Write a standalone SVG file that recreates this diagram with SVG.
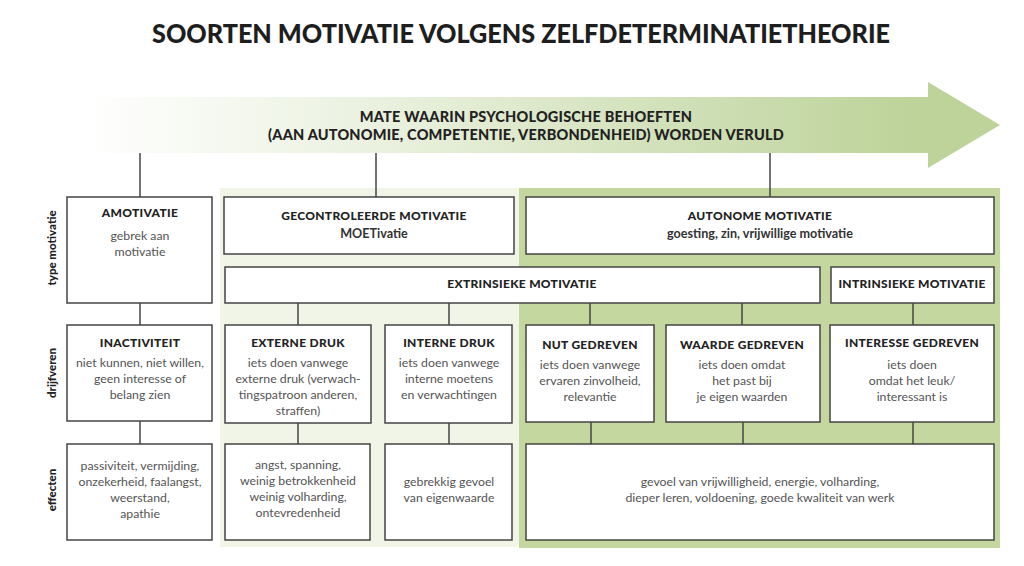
<svg xmlns="http://www.w3.org/2000/svg" width="1024" height="566" viewBox="0 0 1024 566">
<defs>
<linearGradient id="arrowGrad" x1="85" y1="0" x2="1000" y2="0" gradientUnits="userSpaceOnUse">
<stop offset="0" stop-color="#bdd39a" stop-opacity="0"/>
<stop offset="0.35" stop-color="#bdd39a" stop-opacity="0.35"/>
<stop offset="0.9" stop-color="#bdd39a" stop-opacity="1"/>
<stop offset="1" stop-color="#bdd39a" stop-opacity="1"/>
</linearGradient>
<style>
.box{fill:#fff;stroke:#444;stroke-width:1.5}
.ln{stroke:#444;stroke-width:1.5;fill:none}
.t{font-family:Lato,"Noto Sans",sans-serif;font-weight:900;font-size:12px;letter-spacing:0.3px;fill:#222;text-anchor:middle}
.b{font-family:Lato,"Noto Sans",sans-serif;font-weight:400;font-size:12.3px;fill:#555;text-anchor:middle}
.bb{font-family:Lato,"Noto Sans",sans-serif;font-weight:700;font-size:12.6px;fill:#333;text-anchor:middle}
.side{font-family:Lato,"Noto Sans",sans-serif;font-weight:900;font-size:11.5px;fill:#222;text-anchor:middle}
.head{font-family:Lato,"Noto Sans",sans-serif;font-weight:900;font-size:14.5px;letter-spacing:0.2px;fill:#222;text-anchor:middle}
</style>
</defs>
<rect width="1024" height="566" fill="#fff"/>
<text x="521" y="43" font-family="Lato,'Noto Sans',sans-serif" font-weight="900" font-size="27" fill="#1e1e1e" text-anchor="middle" textLength="738" lengthAdjust="spacingAndGlyphs">SOORTEN MOTIVATIE VOLGENS ZELFDETERMINATIETHEORIE</text>

<g id="panels">
<rect x="220" y="188" width="299" height="359" fill="#f0f5e7"/>
<rect x="519" y="188" width="481" height="360" fill="#c3d79f"/>
</g>

<g id="arrow">
<polygon points="85,97 928,97 928,82 1000,125 928,168 928,153 85,153" fill="url(#arrowGrad)"/>
<text class="head" x="526" y="122">MATE WAARIN PSYCHOLOGISCHE BEHOEFTEN</text>
<text class="head" x="526" y="140">(AAN AUTONOMIE, COMPETENTIE, VERBONDENHEID) WORDEN VERULD</text>
</g>

<g id="connectors">
<line class="ln" x1="140" y1="153" x2="140" y2="197"/>
<line class="ln" x1="376" y1="153" x2="376" y2="197"/>
<line class="ln" x1="770" y1="153" x2="770" y2="197"/>
<line class="ln" x1="140" y1="303" x2="140" y2="325"/>
<line class="ln" x1="298" y1="303" x2="298" y2="325"/>
<line class="ln" x1="449" y1="303" x2="449" y2="325"/>
<line class="ln" x1="590" y1="303" x2="590" y2="325"/>
<line class="ln" x1="742" y1="303" x2="742" y2="325"/>
<line class="ln" x1="913" y1="303" x2="913" y2="325"/>
<line class="ln" x1="140" y1="421" x2="140" y2="444"/>
<line class="ln" x1="298" y1="423" x2="298" y2="444"/>
<line class="ln" x1="449" y1="423" x2="449" y2="444"/>
<line class="ln" x1="591" y1="422" x2="591" y2="444"/>
<line class="ln" x1="743" y1="422" x2="743" y2="444"/>
<line class="ln" x1="913" y1="422" x2="913" y2="444"/>
</g>

<g id="side-labels">
<text class="side" transform="translate(56,248) rotate(-90)">type motivatie</text>
<text class="side" transform="translate(56,373) rotate(-90)">drijfveren</text>
<text class="side" transform="translate(56,490) rotate(-90)">effecten</text>
</g>

<g id="amotivatie">
<rect class="box" x="67" y="197" width="145" height="106"/>
<text class="t" x="140" y="217">AMOTIVATIE</text>
<text class="b" x="140" y="240">gebrek aan</text>
<text class="b" x="140" y="256">motivatie</text>
</g>

<g id="gecontroleerde">
<rect class="box" x="224" y="197" width="290" height="57"/>
<text class="t" x="374" y="220">GECONTROLEERDE MOTIVATIE</text>
<text class="bb" x="374" y="238">MOETivatie</text>
</g>

<g id="autonome">
<rect class="box" x="526" y="197" width="468" height="57"/>
<text class="t" x="760" y="220">AUTONOME MOTIVATIE</text>
<text class="bb" x="760" y="238">goesting, zin, vrijwillige motivatie</text>
</g>

<g id="extrinsieke">
<rect class="box" x="225" y="267" width="595" height="36"/>
<text class="t" x="522" y="288">EXTRINSIEKE MOTIVATIE</text>
</g>

<g id="intrinsieke">
<rect class="box" x="831" y="267" width="163" height="36"/>
<text class="t" x="912" y="288">INTRINSIEKE MOTIVATIE</text>
</g>

<g id="inactiviteit">
<rect class="box" x="67" y="325" width="145" height="96"/>
<text class="t" x="140" y="347">INACTIVITEIT</text>
<text class="b" x="140" y="367">niet kunnen, niet willen,</text>
<text class="b" x="140" y="383">geen interesse of</text>
<text class="b" x="140" y="399">belang zien</text>
</g>

<g id="externe-druk">
<rect class="box" x="225" y="325" width="146" height="98"/>
<text class="t" x="298" y="347">EXTERNE DRUK</text>
<text class="b" x="298" y="367">iets doen vanwege</text>
<text class="b" x="298" y="383">externe druk (verwach-</text>
<text class="b" x="298" y="399">tingspatroon anderen,</text>
<text class="b" x="298" y="415">straffen)</text>
</g>

<g id="interne-druk">
<rect class="box" x="385" y="325" width="127" height="98"/>
<text class="t" x="449" y="347">INTERNE DRUK</text>
<text class="b" x="449" y="367">iets doen vanwege</text>
<text class="b" x="449" y="383">interne moetens</text>
<text class="b" x="449" y="399">en verwachtingen</text>
</g>

<g id="nut-gedreven">
<rect class="box" x="526" y="325" width="128" height="97"/>
<text class="t" x="590" y="349">NUT GEDREVEN</text>
<text class="b" x="590" y="369">iets doen vanwege</text>
<text class="b" x="590" y="385">ervaren zinvolheid,</text>
<text class="b" x="590" y="401">relevantie</text>
</g>

<g id="waarde-gedreven">
<rect class="box" x="666" y="325" width="154" height="97"/>
<text class="t" x="742" y="349">WAARDE GEDREVEN</text>
<text class="b" x="742" y="369">iets doen omdat</text>
<text class="b" x="742" y="385">het past bij</text>
<text class="b" x="742" y="401">je eigen waarden</text>
</g>

<g id="interesse-gedreven">
<rect class="box" x="830" y="325" width="164" height="97"/>
<text class="t" x="912" y="347">INTERESSE GEDREVEN</text>
<text class="b" x="912" y="369">iets doen</text>
<text class="b" x="912" y="385">omdat het leuk/</text>
<text class="b" x="912" y="401">interessant is</text>
</g>

<g id="effect-amotivatie">
<rect class="box" x="67" y="444" width="145" height="96"/>
<text class="b" x="140" y="470">passiviteit, vermijding,</text>
<text class="b" x="140" y="486">onzekerheid, faalangst,</text>
<text class="b" x="140" y="502">weerstand,</text>
<text class="b" x="140" y="518">apathie</text>
</g>

<g id="effect-externe">
<rect class="box" x="225" y="444" width="145" height="96"/>
<text class="b" x="298" y="469">angst, spanning,</text>
<text class="b" x="298" y="485">weinig betrokkenheid</text>
<text class="b" x="298" y="501">weinig volharding,</text>
<text class="b" x="298" y="517">ontevredenheid</text>
</g>

<g id="effect-interne">
<rect class="box" x="385" y="444" width="127" height="96"/>
<text class="b" x="449" y="486">gebrekkig gevoel</text>
<text class="b" x="449" y="502">van eigenwaarde</text>
</g>

<g id="effect-autonoom">
<rect class="box" x="526" y="444" width="468" height="96"/>
<text class="b" x="760" y="486">gevoel van vrijwilligheid, energie, volharding,</text>
<text class="b" x="760" y="502">dieper leren, voldoening, goede kwaliteit van werk</text>
</g>
</svg>
